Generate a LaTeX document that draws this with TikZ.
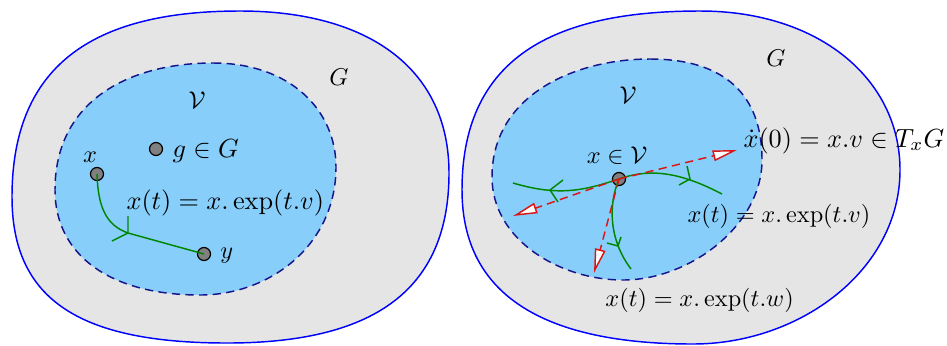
\documentclass[tikz,border=0pt]{standalone}
\usetikzlibrary{arrows.meta}
\definecolor{skyb}{RGB}{135,206,250}
\definecolor{navyc}{RGB}{20,20,140}
\definecolor{greenc}{RGB}{0,135,0}
\definecolor{redc}{RGB}{220,20,20}
\begin{document}
\begin{tikzpicture}[x=0.4115pt,y=-0.4115pt,
  outer/.style={draw=blue, fill=gray!20, line width=0.6pt},
  inner/.style={draw=navyc, fill=skyb, line width=0.6pt, dash pattern=on 3.4pt off 2.2pt},
  dot/.style={circle, draw=black, fill=gray, line width=0.5pt, minimum size=5.35pt, inner sep=0pt},
  curve/.style={draw=greenc, line width=0.6pt},
  vec/.style={draw=redc, line width=0.6pt, dash pattern=on 3.4pt off 2.2pt, -{Triangle[length=10pt,width=4.4pt,fill=white]}},
  lab/.style={inner sep=0pt},
  big/.style={scale=1.08, transform shape}
]
\useasboundingbox (0,0) rectangle (947,345);
% ---------- left panel ----------
\path[outer] (240,11) .. controls (370,11) and (449,70) .. (449,173)
  .. controls (449,300) and (360,343) .. (227,343)
  .. controls (80,343) and (12,300) .. (12,197)
  .. controls (12,60) and (100,11) .. cycle;
\path[inner] (213,63) .. controls (290,63) and (336,110) .. (336,167)
  .. controls (336,245) and (270,295) .. (200,295)
  .. controls (110,295) and (55,255) .. (55,190)
  .. controls (55,100) and (130,63) .. cycle;
\node[lab] (VL) at (197,100) {$\mathcal{V}$};
\node[lab] (GL) at (339,77) {$G$};
\node[dot] (x) at (97,174) {};
\node[dot] (g) at (156,149) {};
\node[dot] (y) at (204,254) {};
\node[lab, anchor=base] (xl) at (90,162) {$x$};
\node[lab, anchor=base west, big] (gl) at (172,157) {$g\in G$};
\node[lab, anchor=base west] (yl) at (220,258) {$y$};
\node[lab, anchor=base west, big] (xtl) at (126,209) {$x(t)=x.\exp(t.v)$};
\coordinate (m) at (128,233);
\draw[curve] (x.center) .. controls (98,205) and (105,225) .. (m) -- (y.center);
\draw[curve] (128,216) -- (m) -- (112,241);
% ---------- right panel ----------
\path[outer] (700,11) .. controls (820,11) and (900,80) .. (900,170)
  .. controls (900,270) and (800,344) .. (693,344)
  .. controls (560,344) and (462,305) .. (462,190)
  .. controls (462,50) and (565,11) .. cycle;
\path[inner] (650,59) .. controls (725,59) and (762,95) .. (762,160)
  .. controls (762,225) and (690,280) .. (623,280)
  .. controls (560,280) and (492,240) .. (492,177)
  .. controls (492,95) and (575,59) .. cycle;
\node[lab] (VR) at (628,95) {$\mathcal{V}$};
\node[lab] (GR) at (776,58) {$G$};
\node[dot] (p) at (619,179) {};
\node[lab, anchor=base] (pl) at (617,163) {$x\in\mathcal{V}$};
\node[lab, anchor=base west, big] (dl) at (743,147) {$\dot{x}(0)=x.v\in T_xG$};
\node[lab, anchor=base west] (vl) at (687,222) {$x(t)=x.\exp(t.v)$};
\node[lab, anchor=base west] (wl) at (605,306) {$x(t)=x.\exp(t.w)$};
\coordinate (ea) at (513,183);
\coordinate (eb) at (722,194);
\coordinate (ec) at (631,269);
\coordinate (ma) at (550,190);
\coordinate (mb) at (690,179);
\coordinate (mc) at (618,246);
\coordinate (ta) at (737,150);
\coordinate (tb) at (513,216);
\coordinate (tc) at (594,273);
\draw[curve] (p.center) .. controls (585,190) and (560,197) .. (ea);
\draw[curve] (563,180) -- (ma) -- (558,202);
\draw[curve] (p.center) .. controls (650,168) and (680,172) .. (eb);
\draw[curve] (687,166) -- (mb) -- (679,185);
\draw[curve] (p.center) .. controls (608,205) and (609,240) .. (ec);
\draw[curve] (607,243) -- (mc) -- (621,237);
\draw[vec] (p.center) -- (ta);
\draw[vec] (p.center) -- (tb);
\draw[vec] (p.center) -- (tc);
\end{tikzpicture}
\end{document}
